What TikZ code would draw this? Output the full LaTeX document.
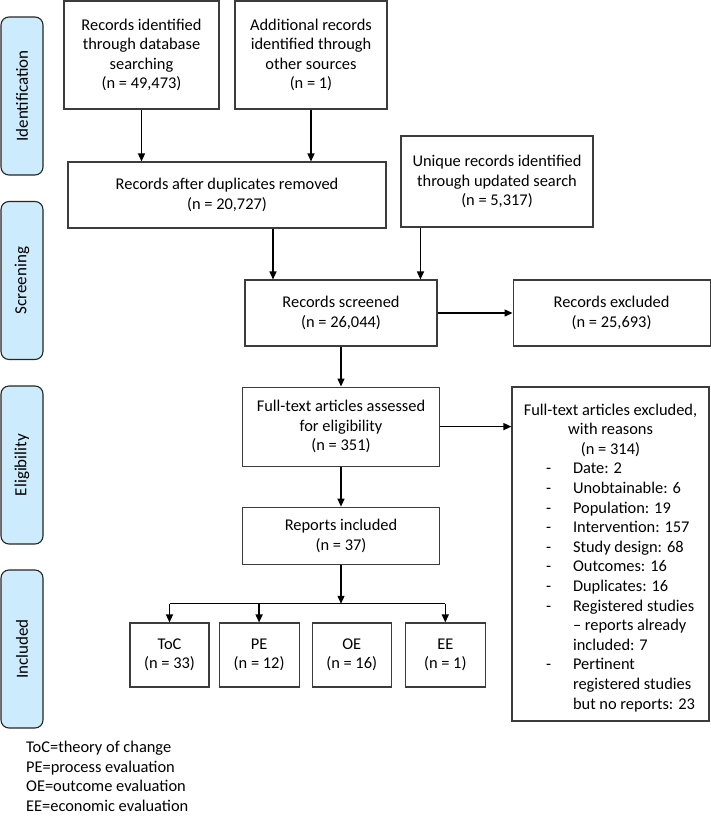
\documentclass[tikz,border=0pt]{standalone}
\usepackage{fontspec}
\setmainfont{Carlito}
\usepackage{xcolor}
\usetikzlibrary{arrows.meta, calc, positioning}
\definecolor{phaseblue}{HTML}{CCEBFC}
\definecolor{boxline}{HTML}{3C3C3C}

\begin{document}
\begin{tikzpicture}[
    x=1pt, y=-1pt,
    font=\fontsize{16.4}{19.6}\selectfont,
    box/.style={rectangle, draw=boxline, line width=1.1pt, align=center, inner sep=2pt},
    phase/.style={rectangle, draw=black!85, fill=phaseblue, rounded corners=8pt, line width=1.1pt, rotate=90, minimum width=158pt, minimum height=42pt, font=\fontsize{17}{20}\selectfont},
    arrow/.style={->, line width=1.3pt, >={Triangle[length=8pt, width=7pt]}}
]
    \useasboundingbox (0,0) rectangle (710,817);

    % phases on the left
    \node[phase] (ident) at (22,96) {Identification};
    \node[phase] (screen) at (22,280.5) {Screening};
    \node[phase] (elig) at (22,465) {Eligibility};
    \node[phase] (incl) at (22,649) {Included};

    % identification
    \node[box, minimum width=155pt, minimum height=108pt] (db) at (141.5,55) {Records identified\\through database\\searching\\(n = 49,473)};
    \node[box, minimum width=152pt, minimum height=108pt] (other) at (311,55) {Additional records\\identified through\\other sources\\(n = 1)};
    \node[box, minimum width=318pt, minimum height=66pt] (dup) at (227,195) {Records after duplicates removed\\(n = 20,727)};
    \node[box, minimum width=192pt, minimum height=91pt] (upd) at (497,181.5) {Unique records identified\\through updated search\\(n = 5,317)};

    % screening
    \node[box, minimum width=192pt, minimum height=66pt] (scr) at (341,313) {Records screened\\(n = 26,044)};
    \node[box, minimum width=197pt, minimum height=66pt, right=75pt of scr] (excl) {Records excluded\\(n = 25,693)};

    % eligibility
    \node[box, minimum width=197pt, minimum height=79pt, below=40pt of scr] (full) {Full-text articles assessed\\for eligibility\\(n = 351)};
    \node[box, minimum width=197pt, minimum height=334pt] (rsn) at (610.5,554) {\rule{0pt}{22pt}Full-text articles excluded,\\with reasons\\(n = 314)\\
        \hspace*{20pt}\begin{tabular}[t]{@{}l@{\hspace{22pt}}l@{}}
        - & Date: 2\\
        - & Unobtainable: 6\\
        - & Population: 19\\
        - & Intervention: 157\\
        - & Study design: 68\\
        - & Outcomes: 16\\
        - & Duplicates: 16\\
        - & Registered studies\\
          & -- reports already\\
          & included: 7\\
        - & Pertinent\\
          & registered studies\\
          & but no reports: 23
        \end{tabular}};
    \node[box, minimum width=197pt, minimum height=57pt, below=40pt of full] (rep) {Reports included\\(n = 37)};

    % included
    \node[box, minimum width=79pt, minimum height=64pt] (toc) at (169.5,655) {ToC\\(n = 33)};
    \node[box, minimum width=80pt, minimum height=64pt, right=9pt of toc] (pe) {PE\\(n = 12)};
    \node[box, minimum width=79pt, minimum height=64pt, right=12pt of pe] (oe) {OE\\(n = 16)};
    \node[box, minimum width=80pt, minimum height=64pt, right=13pt of oe] (ee) {EE\\(n = 1)};

    % arrows
    \draw[arrow] (db.south) -- (db.south |- dup.north);
    \draw[arrow] (other.south) -- (other.south |- dup.north);
    \draw[arrow] ([xshift=46pt]dup.south) -- ([xshift=46pt]dup.south |- scr.north);
    \draw[arrow] ([xshift=20pt]upd.south west) -- ([xshift=20pt]upd.south west |- scr.north);
    \draw[arrow] (scr.east) -- (excl.west);
    \draw[arrow] (scr.south) -- (full.north);
    \draw[arrow] (full.east) -- (full.east -| rsn.west);
    \draw[arrow] (full.south) -- (rep.north);
    \coordinate (split) at ($(rep.south)+(0,39)$);
    \draw[arrow] (rep.south) -- (split);
    \draw[line width=1.3pt] (split -| toc.north) -- (split -| ee.north);
    \foreach \n in {toc, pe, ee}
        \draw[arrow] (split -| \n.north) -- (\n.north);

    % legend
    \node[anchor=north west, align=left, inner sep=0pt] (legend) at (26,741) {ToC=theory of change\\PE=process evaluation\\OE=outcome evaluation\\EE=economic evaluation};
\end{tikzpicture}
\end{document}
